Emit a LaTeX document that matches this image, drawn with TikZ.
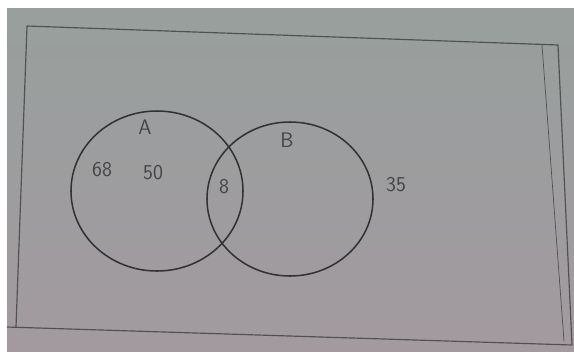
\documentclass[tikz,border=0pt]{standalone}
\usepackage{xcolor}
\usepackage{tikz}
\usetikzlibrary{positioning, shapes.geometric}

\definecolor{photoTop}{RGB}{152,159,157}
\definecolor{photoBot}{RGB}{162,154,159}
\definecolor{pencil}{RGB}{48,50,52}

\begin{document}
\begin{tikzpicture}[
  x=0.03cm, y=-0.03cm,
  set/.style={ellipse, draw=pencil, line width=1.3pt, inner sep=0pt},
  num/.style={text=pencil!90, font=\sffamily\fontsize{18}{20}\selectfont},
  edge/.style={draw=pencil!85, line width=1pt},
]
\useasboundingbox (0,0) rectangle (574,351);
\fill[white] (0,0) rectangle (574,351);
\shade[top color=photoTop, bottom color=photoBot] (7,8) rectangle (574,351);

% sheet border
\coordinate (tl) at (27,26);
\coordinate (tr) at (558,45);
\coordinate (br) at (572,345);
\coordinate (bl) at (7,327);
\coordinate (lb) at (16,327);
\coordinate (it) at (542,45);
\coordinate (ib) at (564,341);
\draw[edge] (tl) -- (tr) -- (br);
\draw[edge] (tl) -- (lb);
\draw[edge] (bl) -- (br);
\draw[edge, line width=0.6pt] (it) -- (ib);

% the two sets
\node[set, minimum width=5.16cm, minimum height=4.8cm] (setA) at (157,191) {};
\node[set, minimum width=4.98cm, minimum height=4.62cm] (setB) at (290,199) {};

\node[num] (nameA) at (145,127) {A};
\node[num] (nameB) at (287,140) {B};
\node[num] (onlyA) at (102,170) {68};
\node[num] (restA) at (153,173) {50};
\node[num] (both) at (224,187) {8};
\node[num] (outB) at (396,185) {35};
\end{tikzpicture}
\end{document}
